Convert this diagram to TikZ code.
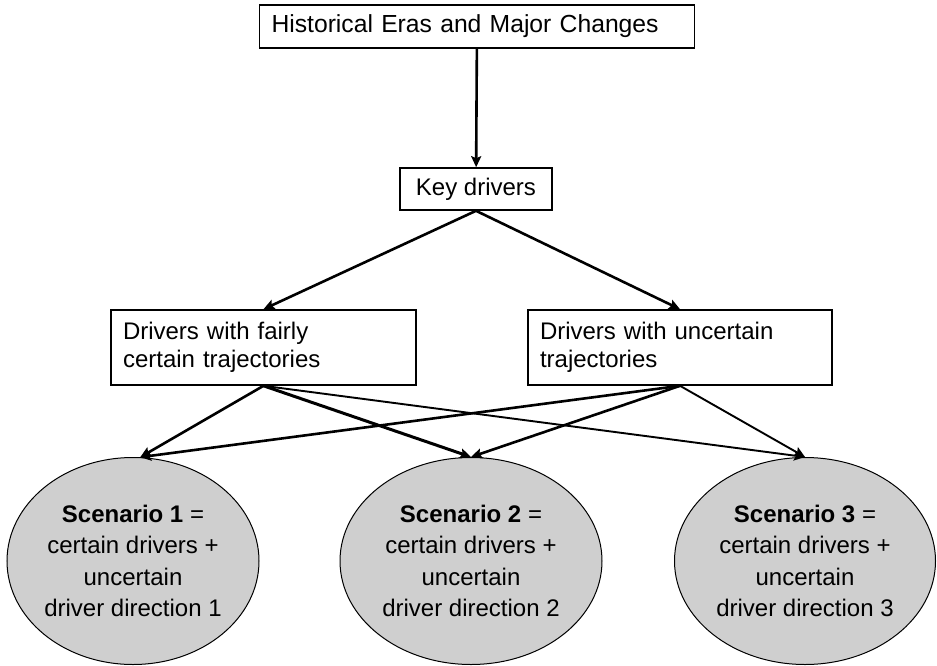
\documentclass[tikz,border=0pt]{standalone}
\usepackage{fontspec}
\setmainfont{Liberation Sans}
\usetikzlibrary{shapes.geometric,arrows.meta}
\begin{document}
\begin{tikzpicture}[x=1pt,y=-1pt,
  every node/.style={font=\fontsize{24}{28}\selectfont},
  boxnode/.style={draw, line width=1.6pt, rectangle, inner sep=0pt},
  twoline/.style={boxnode, text width=#1, align=left, minimum height=75pt},
  scen/.style={draw, line width=1pt, ellipse, fill=black!19, inner sep=0pt,
    align=center, font=\fontsize{24}{31.5}\selectfont},
  conn/.style={line width=2.6pt, -{Stealth[length=11pt,width=10pt,inset=2pt]}},
  thin conn/.style={line width=1.9pt, -{Stealth[length=11pt,width=10pt,inset=2pt]}}
]
\useasboundingbox (0,0) rectangle (937,666);
\node[boxnode, minimum width=435pt, minimum height=43pt, text width=411pt, align=left, inner xsep=12pt,
  font=\fontsize{24.7}{28}\selectfont] (hist) at (477,26.5) {Historical Eras and Major Changes};
\node[boxnode, minimum width=152pt, minimum height=42pt] (key) at (476,189) {Key drivers};
\node[twoline=281pt, minimum width=305pt, inner xsep=12pt] (L) at (263.5,347.5) {Drivers with fairly\\certain trajectories};
\node[twoline=280pt, minimum width=304pt, inner xsep=12pt] (R) at (680,347.5) {Drivers with uncertain\\trajectories};
\node[scen, minimum width=252pt, minimum height=207pt] (E1) at (133,561) {\textbf{Scenario 1} =\\certain drivers +\\uncertain\\driver direction 1};
\node[scen, minimum width=262pt, minimum height=207pt] (E2) at (471,561) {\textbf{Scenario 2} =\\certain drivers +\\uncertain\\driver direction 2};
\node[scen, minimum width=261pt, minimum height=207pt] (E3) at (805,561) {\textbf{Scenario 3} =\\certain drivers +\\uncertain\\driver direction 3};
\draw[conn] (hist) -- (key);
\draw[conn] (key.south) -- (L.north);
\draw[conn] (key.south) -- (R.north);
\draw[conn] (L.south) -- (E1.86);
\draw[conn, line width=3pt] (L.south) -- (E2.north);
\draw[thin conn] (L.south) -- (E3.north);
\draw[conn] (R.south) -- (E1.86);
\draw[conn] (R.south) -- (E2.north);
\draw[thin conn] (R.south) -- (E3.north);
\end{tikzpicture}
\end{document}
